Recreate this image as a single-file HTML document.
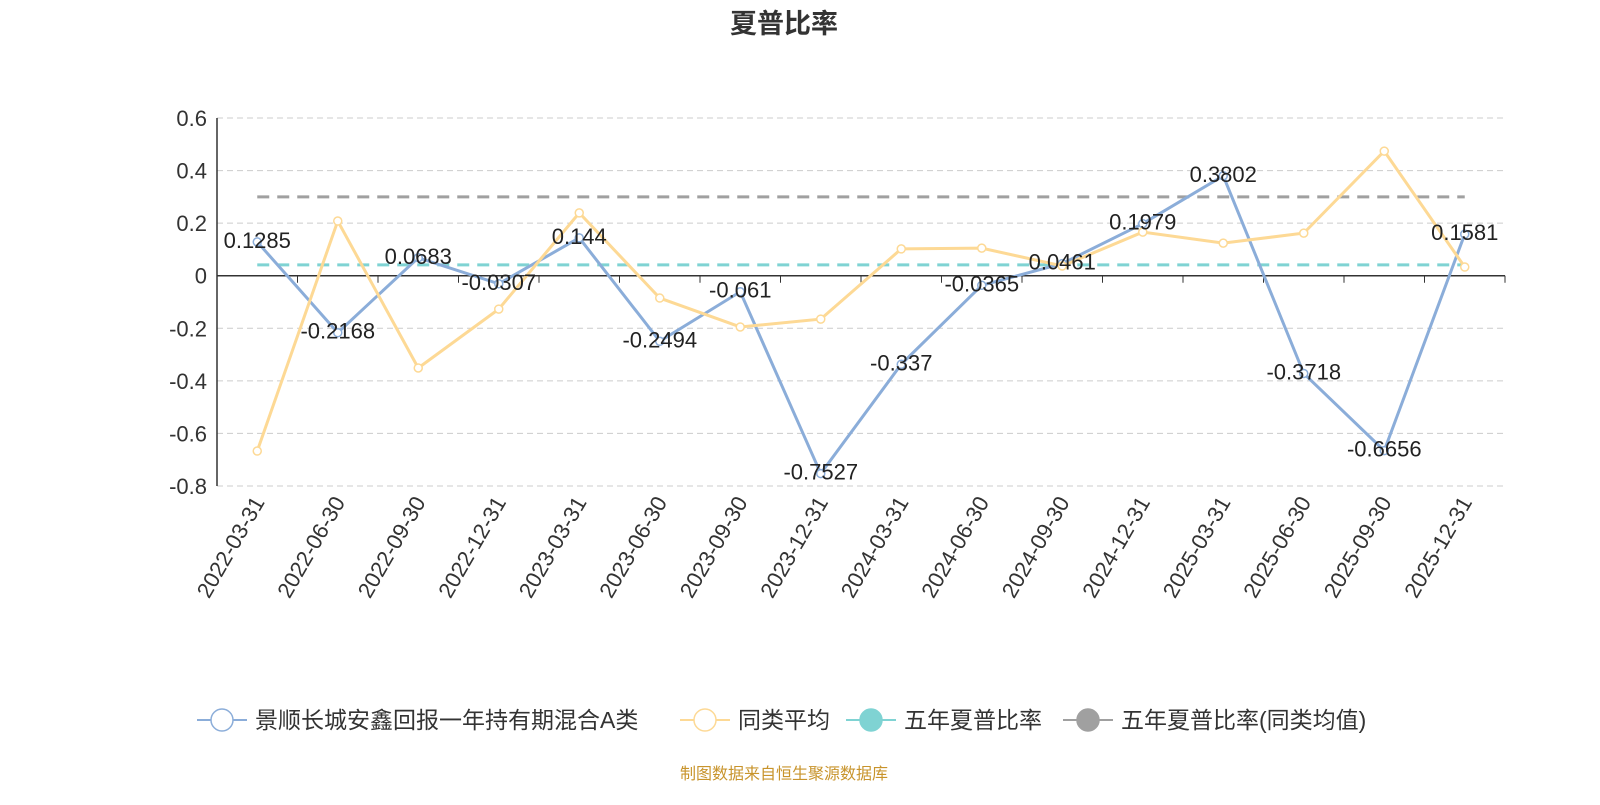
<!DOCTYPE html>
<html><head><meta charset="utf-8"><style>
body{margin:0;background:#fff;}
svg text{font-family:"Liberation Sans","Noto Sans CJK SC",sans-serif;}
</style></head><body>
<svg id="c" width="1600" height="800" xmlns="http://www.w3.org/2000/svg">
<text x="784" y="33" text-anchor="middle" font-size="27" font-weight="bold" fill="#333">夏普比率</text>
<g id="grid"></g><g id="axes"></g><g id="series"></g><g id="labels"></g>
<g id="legend"></g>
<text x="784" y="779" text-anchor="middle" font-size="16" fill="#c8942c">制图数据来自恒生聚源数据库</text>
</svg>
<script>
const categories=["2022-03-31","2022-06-30","2022-09-30","2022-12-31","2023-03-31","2023-06-30","2023-09-30","2023-12-31","2024-03-31","2024-06-30","2024-09-30","2024-12-31","2025-03-31","2025-06-30","2025-09-30","2025-12-31"];
const fundValues=[0.1285,-0.2168,0.0683,-0.0307,0.144,-0.2494,-0.061,-0.7527,-0.337,-0.0365,0.0461,0.1979,0.3802,-0.3718,-0.6656,0.1581];
const peerValues=[-0.667,0.208,-0.351,-0.127,0.239,-0.085,-0.195,-0.165,0.102,0.105,0.037,0.166,0.124,0.162,0.474,0.033];
const fiveYearFund=0.041;
const fiveYearPeer=0.30;
const yTicks=[0.6,0.4,0.2,0,-0.2,-0.4,-0.6,-0.8];
const NS="http://www.w3.org/2000/svg";
const L=217,R=1505,T=118,B=486,ymin=-0.8,ymax=0.6;
const cw=(R-L)/categories.length;
function x(i){return L+cw*(i+0.5);}
function y(v){return T+(ymax-v)/(ymax-ymin)*(B-T);}
function mk(tag,attrs,parent){const e=document.createElementNS(NS,tag);for(const k in attrs)e.setAttribute(k,attrs[k]);document.getElementById(parent).appendChild(e);return e;}
yTicks.forEach(v=>{
 if(v!==0){const g=mk('line',{x1:L,x2:R,y1:y(v),y2:y(v),stroke:'#ccc','stroke-dasharray':'6,4','stroke-width':1},'grid');
 
 }
 const t=mk('text',{x:L-10,y:y(v)+8,'text-anchor':'end','font-size':22,fill:'#333'},'axes');t.textContent=v===0?'0':String(v);
 
 
});
const ya=mk('line',{x1:L,x2:L,y1:T,y2:B,stroke:'#333','stroke-width':1.5},'axes');


const xa=mk('line',{x1:L,x2:R,y1:y(0),y2:y(0),stroke:'#333','stroke-width':1.5},'axes');


categories.forEach((c,i)=>{
 const tk=mk('line',{x1:L+cw*(i+1),x2:L+cw*(i+1),y1:y(0),y2:y(0)+7,stroke:'#333'},'axes');
 
 
 const t=mk('text',{x:x(i)+8,y:502,'text-anchor':'end','font-size':22,fill:'#333',transform:`rotate(-60 ${x(i)+8} 502)`},'axes');t.textContent=c;
 
 
});
const d1=mk('line',{x1:x(0),x2:x(15),y1:y(fiveYearFund),y2:y(fiveYearFund),stroke:'#7fd3d3','stroke-width':3,'stroke-dasharray':'12,8'},'series');


const d2=mk('line',{x1:x(0),x2:x(15),y1:y(fiveYearPeer),y2:y(fiveYearPeer),stroke:'#a0a0a0','stroke-width':3,'stroke-dasharray':'12,8'},'series');


function line(vals,color,name){
 const p=mk('polyline',{points:vals.map((v,i)=>x(i)+','+y(v)).join(' '),fill:'none',stroke:color,'stroke-width':3},'series');
 
 
 vals.forEach((v,i)=>{const c=mk('circle',{cx:x(i),cy:y(v),r:4,fill:'#fff',stroke:color,'stroke-width':1.5},'series');
 
 });
}
line(fundValues,'#8badd9','fund');
line(peerValues,'#fdd995','peer');
fundValues.forEach((v,i)=>{const t=mk('text',{x:x(i),y:y(v)+6,'text-anchor':'middle','font-size':22,fill:'#222'},'labels');t.textContent=String(v);
 
 });
const leg=[["景顺长城安鑫回报一年持有期混合A类",'#8badd9',false,197],["同类平均",'#fdd995',false,680],["五年夏普比率",'#7fd3d3',true,846],["五年夏普比率(同类均值)",'#a0a0a0',true,1063]];
leg.forEach(([n,c,f,lx])=>{
 const l=mk('line',{x1:lx,x2:lx+50,y1:720,y2:720,stroke:c,'stroke-width':2},'legend');
 
 
 const ci=mk('circle',{cx:lx+25,cy:720,r:11,fill:f?c:'#fff',stroke:c,'stroke-width':1.5},'legend');
 
 
 const t=mk('text',{x:lx+58,y:728,'font-size':23,fill:'#333'},'legend');t.textContent=n;
 
 
});
</script>
</body></html>
